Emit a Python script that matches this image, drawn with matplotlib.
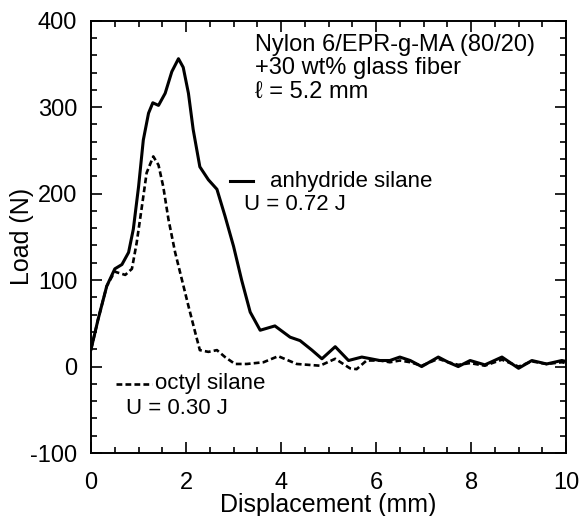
import matplotlib.pyplot as plt
from matplotlib.ticker import MultipleLocator

plt.rcParams['font.family'] = ['Liberation Sans', 'DejaVu Sans']
plt.rcParams['axes.unicode_minus'] = False

# anhydride silane (solid)
disp_anhydride = [0.0, 0.15, 0.33, 0.50, 0.65, 0.79, 0.89, 1.00, 1.10, 1.21, 1.30, 1.42,
                  1.56, 1.70, 1.84, 1.94, 2.05, 2.15, 2.29, 2.47, 2.65, 2.82, 3.00, 3.17,
                  3.35, 3.56, 3.87, 4.19, 4.40, 4.65, 4.86, 5.14, 5.42, 5.70, 6.08, 6.29,
                  6.50, 6.72, 6.96, 7.31, 7.52, 7.73, 7.98, 8.29, 8.65, 9.00, 9.28, 9.59,
                  9.91, 10.0]
load_anhydride = [20, 55, 93, 113, 118, 132, 159, 208, 262, 293, 305, 302,
                  316, 341, 356, 346, 316, 274, 231, 216, 205, 174, 139, 100,
                  63, 42, 47, 34, 30, 19, 9, 23, 7, 11, 7, 7,
                  11, 7, 0, 11, 5, 0, 7, 2, 11, -2, 7, 3,
                  7, 6]

# octyl silane (dashed)
disp_octyl = [0.0, 0.15, 0.33, 0.50, 0.54, 0.72, 0.86, 0.96, 1.07, 1.17, 1.31, 1.42,
              1.52, 1.63, 1.77, 1.91, 2.05, 2.19, 2.29, 2.47, 2.65, 2.82, 3.03, 3.28,
              3.63, 3.94, 4.33, 4.82, 5.14, 5.45, 5.59, 5.80, 6.08, 6.29, 6.50, 6.72,
              6.96, 7.31, 7.52, 7.73, 7.98, 8.29, 8.65, 9.00, 9.28, 9.59, 9.91, 10.0]
load_octyl = [20, 55, 93, 110, 109, 106, 113, 143, 185, 224, 243, 233,
              208, 170, 132, 101, 70, 40, 19, 17, 19, 11, 3, 3,
              5, 12, 3, 1, 9, -2, -3, 7, 7, 5, 7, 5,
              1, 9, 5, 2, 4, 1, 8, 0, 6, 3, 5, 4]

fig = plt.figure(figsize=(5.8, 5.16), dpi=100)
ax = fig.add_axes([0.157, 0.122, 0.819, 0.838])

ax.plot(disp_anhydride, load_anhydride, color='black', lw=2.2)
ax.plot(disp_octyl, load_octyl, color='black', lw=1.9, linestyle=(0, (2.2, 1.2)))

ax.set_xlim(0, 10)
ax.set_ylim(-100, 400)
ax.xaxis.set_major_locator(MultipleLocator(2))
ax.xaxis.set_minor_locator(MultipleLocator(0.5))
ax.yaxis.set_major_locator(MultipleLocator(100))
ax.yaxis.set_minor_locator(MultipleLocator(20))
ax.tick_params(which='both', direction='in', top=True, right=True, labelsize=17, width=1.2)
ax.tick_params(which='major', length=8)
ax.tick_params(which='minor', length=4)
ax.tick_params(axis='x', which='major', pad=14)
ax.tick_params(axis='y', which='major', pad=10)
for s in ax.spines.values():
    s.set_linewidth(1.4)

ax.set_xlabel('Displacement (mm)', fontsize=18, labelpad=-1)
ax.set_ylabel('Load (N)', fontsize=18, labelpad=-3)

ax.text(3.45, 385, 'Nylon 6/EPR-g-MA (80/20)\n+30 wt% glass fiber\n\u2113 = 5.2 mm',
        fontsize=17, va='top', ha='left', linespacing=1.1)

# in-plot legend
ax.plot([2.93, 3.41], [214, 214], color='black', lw=2.2)
ax.text(3.76, 214, 'anhydride silane', fontsize=16, va='center')
ax.text(3.22, 187, 'U = 0.72 J', fontsize=16, va='center')
ax.plot([0.53, 1.28], [-20, -20], color='black', lw=1.9, linestyle=(0, (2.2, 1.2)))
ax.text(1.34, -20, 'octyl silane', fontsize=16, va='center')
ax.text(0.74, -48, 'U = 0.30 J', fontsize=16, va='center')

plt.savefig('out.png', dpi=100)
